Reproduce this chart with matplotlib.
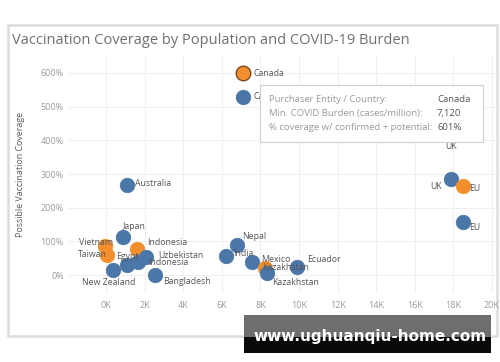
import matplotlib
matplotlib.use("Agg")
import matplotlib.pyplot as plt
from matplotlib.patches import Rectangle, FancyBboxPatch

# ---- data ----
countries = ["Canada", "Canada", "Australia", "Japan", "Vietnam", "Taiwan", "Indonesia",
             "New Zealand", "Egypt", "Indonesia", "Uzbekistan", "Bangladesh",
             "India", "Nepal", "Mexico", "Kazakhstan", "Kazakhstan", "Ecuador",
             "UK", "UK", "EU", "EU"]
burden_k = [7.12, 7.12, 1.09, 0.88, -0.05, 0.05, 1.6,
            0.36, 1.09, 1.66, 2.07, 2.54,
            6.2, 6.8, 7.56, 8.24, 8.34, 9.9,
            17.9, 17.9, 18.5, 18.5]
coverage = [601, 528, 267, 113, 86, 60, 77,
            15, 30, 39, 53, 0,
            56, 89, 39, 21, 6, 24,
            422, 285, 264, 157]
kind = ["o", "b", "b", "b", "o", "o", "o",
        "b", "b", "b", "b", "b",
        "b", "b", "b", "o", "b", "b",
        "o", "b", "o", "b"]
# label offsets in pixels (dx right, dy down) and alignment
label_dx = [10, 10, 8, 11, 8, 0, 10, -4, 0, 10, 12, 8, 7, 5, 9, -3, 5, 10, 0, -10, 6, 6]
label_dy = [1, -1, -2, -11, -4, 0, -7, 12, -9, 1, -2, 6, -3, -9, -2, -1, 9, -8, 14, 7, 2, 5]
label_ha = ["left", "left", "left", "center", "right", "right", "left", "center", "center",
            "left", "left", "left", "left", "left", "left", "left", "left", "left",
            "center", "right", "left", "left"]

x_ticks = [0, 2, 4, 6, 8, 10, 12, 14, 16, 18, 20]
y_ticks = [0, 100, 200, 300, 400, 500, 600]

BLUE = "#4a76a8"
ORANGE = "#f28e2b"

plt.rcParams['font.family'] = ['Open Sans', 'DejaVu Sans']

fig = plt.figure(figsize=(5, 3.62), dpi=100)
fig.patch.set_facecolor("white")

# card frame
fig.patches.append(Rectangle((8/500, 1-336/362), 489/500, 311/362, transform=fig.transFigure,
                             facecolor="none", edgecolor="#dcdcdc", linewidth=1.8, zorder=-1))

ax = fig.add_axes([68/500, 1-293/362, 429/500, 238/362])
ax.set_facecolor("none")
ax.set_xlim(-1.97, 20.26)
ax.set_ylim(-53, 653)
for s in ax.spines.values():
    s.set_visible(False)
ax.set_xticks(x_ticks)
ax.set_xticklabels([f"{t}K" for t in x_ticks])
ax.set_yticks(y_ticks)
ax.set_yticklabels([f"{t}%" for t in y_ticks])
ax.tick_params(axis="x", length=0, labelsize=6.5, colors="#9a9a9a", pad=6)
ax.tick_params(axis="y", length=0, labelsize=6.5, colors="#9a9a9a", pad=3)
ax.grid(True, color="#f0f0f0", linewidth=0.8)
ax.set_axisbelow(True)
ax.set_ylabel("Possible Vaccination Coverage", fontsize=6.4, color="#5a5a5a", labelpad=11)

for i, (x, y, k) in enumerate(zip(burden_k, coverage, kind)):
    col = ORANGE if k == "o" else BLUE
    ec = "#7a4a1a" if i == 0 else col
    ax.scatter([x], [y], s=110, color=col, edgecolors=ec, linewidths=1.0 if i == 0 else 0.5,
               zorder=3)
    ax.annotate(countries[i], (x, y), xytext=(label_dx[i]*0.72, -label_dy[i]*0.72),
                textcoords="offset points", ha=label_ha[i], va="center",
                fontsize=6.3, color="#555555", zorder=4)

# title
fig.text(12/500, 1-40/362, "Vaccination Coverage by Population and COVID-19 Burden",
         fontsize=10.5, color="#707070", va="center", ha="left")

# tooltip
tip = FancyBboxPatch((260/500, 1-142/362), 223/500, 57/362, boxstyle="square,pad=0",
                     transform=fig.transFigure, facecolor="white", edgecolor="#cfcfcf",
                     linewidth=0.8, zorder=10)
fig.patches.append(tip)
rows = [("Purchaser Entity / Country:", "Canada"),
        ("Min. COVID Burden (cases/million):", "7,120"),
        ("% coverage w/ confirmed + potential:", "601%")]
for j, (a, b) in enumerate(rows):
    yy = 1 - (100 + j*13.5)/362
    fig.text(269/500, yy, a, fontsize=6.8, color="#9a9a9a", va="center", ha="left", zorder=11)
    fig.text(437/500, yy, b, fontsize=6.8, color="#555555", va="center", ha="left", zorder=11)

# watermark banner
fig.patches.append(Rectangle((244/500, 1-337/362), 247/500, 22/362, transform=fig.transFigure,
                             facecolor="#6e6e6e", edgecolor="none", zorder=12))
fig.patches.append(Rectangle((244/500, 1-353/362), 247/500, 16/362, transform=fig.transFigure,
                             facecolor="#0a0a0a", edgecolor="none", zorder=12))
fig.text(370/500, 1-336/362, "www.ughuanqiu-home.com", fontsize=11, fontweight="bold",
         color="white", ha="center", va="center", family="DejaVu Sans", zorder=13)

fig.savefig("out.png", dpi=100, facecolor="white")
